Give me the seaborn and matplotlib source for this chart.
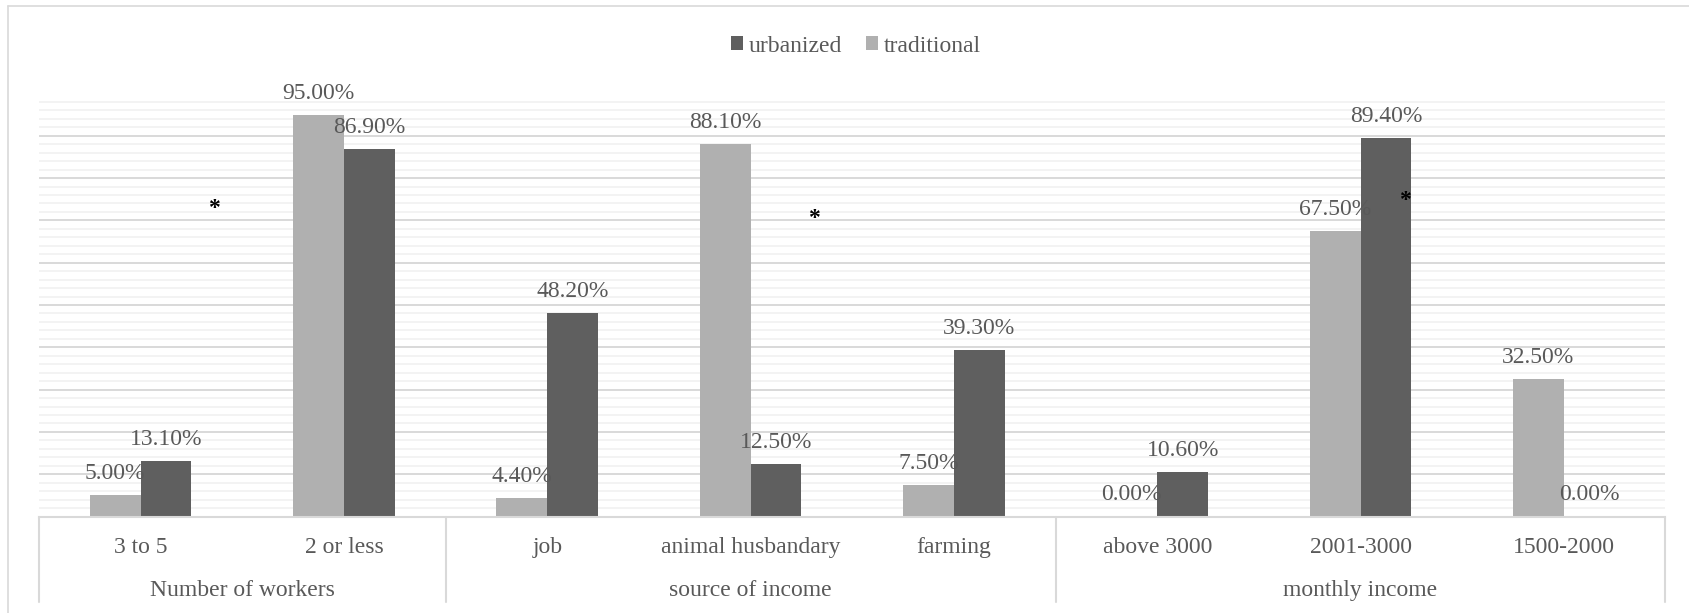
import numpy as np
import pandas as pd
import matplotlib
matplotlib.use("Agg")
import matplotlib.pyplot as plt
import matplotlib.transforms as mtransforms
from matplotlib.lines import Line2D
from matplotlib.patches import Patch
import seaborn as sns

# ---- data -------------------------------------------------------------
categories = ["3 to 5", "2 or less", "job", "animal husbandary", "farming",
              "above 3000", "2001-3000", "1500-2000"]
traditional = [5.0, 95.0, 4.4, 88.1, 7.5, 0.0, 67.5, 32.5]
urbanized = [13.1, 86.9, 48.2, 12.5, 39.3, 10.6, 89.4, 0.0]

groups = ["Number of workers", "source of income", "monthly income"]
group_sizes = [2, 3, 3]

# significance markers (category position, height in %)
star_x = [0.36, 3.31, 6.22]
star_y = [72.7, 70.5, 74.6]

# ---- styling ----------------------------------------------------------
sns.set_style("white")
plt.rcParams["font.family"] = ["Liberation Serif", "DejaVu Serif"]

TEXT = "#595959"
DARK = "#5f5f5f"
LIGHT = "#b0b0b0"
GRID_MAJOR = "#d9d9d9"
GRID_MINOR = "#f0f0f0"
FS = 17

df = pd.DataFrame({
    "category": categories * 2,
    "value": traditional + urbanized,
    "area": ["traditional"] * len(categories) + ["urbanized"] * len(categories),
})

W, H = 1690, 613
fig = plt.figure(figsize=(W / 100, H / 100), dpi=100)
ax_left, ax_right, ax_top, ax_bottom = 39, 1665.5, 93.5, 516.5
ax = fig.add_axes([ax_left / W, 1 - ax_bottom / H,
                   (ax_right - ax_left) / W, (ax_bottom - ax_top) / H])

sns.barplot(data=df, x="category", y="value", hue="area",
            order=categories, hue_order=["traditional", "urbanized"],
            palette={"traditional": LIGHT, "urbanized": DARK},
            width=0.5, saturation=1, errorbar=None, legend=False,
            linewidth=0, edgecolor="none", ax=ax)

ax.set_xlim(-0.5, len(categories) - 0.5)
ax.set_ylim(0, 100)
ax.set_xlabel("")
ax.set_ylabel("")

# gridlines
ax.set_yticks(np.arange(0, 101, 10))
ax.set_yticks(np.arange(0, 101, 2), minor=True)
ax.yaxis.grid(True, which="minor", color=GRID_MINOR, linewidth=1.1)
ax.yaxis.grid(True, which="major", color=GRID_MAJOR, linewidth=1.4)
ax.set_axisbelow(True)
ax.tick_params(axis="y", which="both", length=0, labelleft=False)

for side in ["top", "left", "right"]:
    ax.spines[side].set_visible(False)
ax.spines["bottom"].set_color(GRID_MAJOR)
ax.spines["bottom"].set_linewidth(1.5)

ax.set_xticks(range(len(categories)))
ax.set_xticklabels(categories, fontsize=FS, color=TEXT)
ax.tick_params(axis="x", length=0, pad=14.5)

# value labels
for container in ax.containers:
    for bar in container:
        h = bar.get_height()
        xc = bar.get_x() + bar.get_width() / 2
        ax.annotate(f"{h:.2f}%", (xc, h), xytext=(0, 16),
                    textcoords="offset pixels", ha="center", va="baseline",
                    fontsize=FS, color=TEXT)

# significance markers
for sx, sy in zip(star_x, star_y):
    ax.text(sx, sy, "*", ha="center", va="center", fontsize=FS,
            fontweight="bold", color="black")

# grouped category axis: separators and group names
trans = mtransforms.blended_transform_factory(ax.transData, ax.transAxes)
sep_bottom = (ax_bottom - 602) / (ax_bottom - ax_top)
group_base = (ax_bottom - 596) / (ax_bottom - ax_top)
edges = np.concatenate([[0], np.cumsum(group_sizes)]) - 0.5
for e in edges:
    ax.add_line(Line2D([e, e], [0, sep_bottom], transform=trans,
                       color=GRID_MAJOR, linewidth=1.5, clip_on=False))
for name, lo, hi in zip(groups, edges[:-1], edges[1:]):
    ax.text((lo + hi) / 2, group_base, name, transform=trans, ha="center",
            va="baseline", fontsize=FS, color=TEXT)

# legend
handles = [Patch(facecolor=DARK, edgecolor="none", label="urbanized"),
           Patch(facecolor=LIGHT, edgecolor="none", label="traditional")]
leg = fig.legend(handles=handles, loc="center", ncol=2, frameon=False,
                 bbox_to_anchor=(856 / W, 1 - 46 / H), fontsize=FS,
                 handlelength=0.5, handleheight=0.5, handletextpad=0.25,
                 columnspacing=1.0, borderaxespad=0)
for t in leg.get_texts():
    t.set_color(TEXT)

# chart border (top and left edges)
fig.add_artist(Line2D([8 / W, 1], [1 - 6 / H, 1 - 6 / H],
                      transform=fig.transFigure, color=GRID_MAJOR, linewidth=1.2))
fig.add_artist(Line2D([8 / W, 8 / W], [0, 1 - 6 / H],
                      transform=fig.transFigure, color=GRID_MAJOR, linewidth=1.2))

fig.savefig("out.png", dpi=100, facecolor="white")
